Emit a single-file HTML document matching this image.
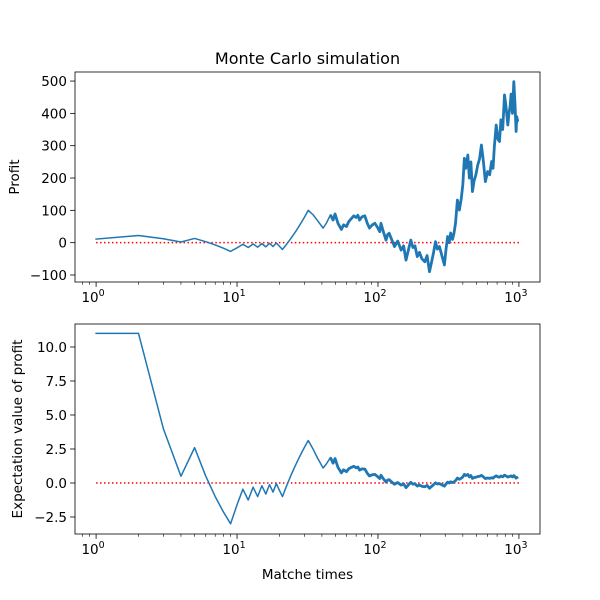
<!DOCTYPE html>
<html><head><meta charset="utf-8">
<style>
html,body{margin:0;padding:0;background:#fff;}
svg{display:block;font-family:"DejaVu Sans","Liberation Sans",sans-serif;}
</style></head>
<body>
<svg id="fig" width="600" height="600" viewBox="0 0 600 600">
<rect width="600" height="600" fill="#fff"/>
</svg>
<script>
const matchN = [1,2,3,4,5,6,7,8,9,10,11,12,13,14,15,16,17,18,19,20,21,22,23,24,25,26,27,28,29,30,31,32,
34.7,37,40.8,43,46,48,49.6,52,55,57,59.8,62,64,67.4,70,72,74,77,80.6,84,87,91,95,99,103,105,109,114,117,120,125,131,138,146,152,158,165,171,177,183,190,197,205,215,223,232,240,248,256,264,273,284,296,304,312,320,328,338,346,355,366,378,390,400,410,420,434,445,456,468,480,495,510,526,542,560,578,600,620,640,655,670,690,710,728,745,767,790,810,834,850,865,880,900,920,940,955,965,981,990,1000];
const profit = [11,22,12,2,13,3,-7,-17,-27,-16,-5,-15,-4,-14,-3,-13,-2,-12,-1,-11,-21,-10,1,12,23,34,45,56,67,78,89,100,
86,70,45,60,86,70,89,60,41,55,50,65,72,83,78,85,70,80,83,60,45,55,60,48,34,60,35,8,25,29,10,-12,5,-23,-10,-54,-20,8,-15,-10,-43,-30,-50,-59,-40,-90,-60,-30,3,-20,-12,-40,-69,-20,19,0,30,10,29,60,132,101,137,180,261,230,271,200,250,158,190,210,240,260,302,250,189,220,210,251,230,300,364,320,313,380,350,457,420,364,400,420,460,400,498,420,344,390,375];
const xTicks = [1,10,100,1000];
const xTickExp = ["0","1","2","3"];
const yTicksTop = [-100,0,100,200,300,400,500];
const yTicksBot = [-2.5,0,2.5,5,7.5,10];
const yTickLabelsBot = ["\u22122.5","0.0","2.5","5.0","7.5","10.0"];
const expectation = profit.map((p,i)=>p/matchN[i]);

const NS="http://www.w3.org/2000/svg";
const svg=document.getElementById('fig');
function el(tag,attrs,parent){const e=document.createElementNS(NS,tag);for(const k in attrs)e.setAttribute(k,attrs[k]);(parent||svg).appendChild(e);return e;}

const L=75,R=540;
const xmin=Math.log10(0.7085),xmax=Math.log10(1411);
const xs=n=>L+(Math.log10(n)-xmin)/(xmax-xmin)*(R-L);

function panel(name,top,bot,ymin,ymax,ticks,labels,series,ylabel){
  const g=el('g',{});
  
  
  const ys=v=>bot-(v-ymin)/(ymax-ymin)*(bot-top);
  const z=el('line',{x1:xs(1),x2:xs(1000),y1:ys(0),y2:ys(0),stroke:'red','stroke-width':1.5,'stroke-dasharray':'1.5,2.475'},g);
  
  
  const d=series.map((v,i)=>(i?'L':'M')+xs(matchN[i]).toFixed(2)+','+ys(v).toFixed(2)).join('');
  const p=el('path',{d:d,fill:'none',stroke:'#1f77b4','stroke-width':1.5,'stroke-linejoin':'round','stroke-linecap':'square'},g);
  
  
  // dense-region thickening (many jittery steps render as a thick band)
  let d2='';let first=true;
  series.forEach((v,i)=>{if(matchN[i]<45)return;d2+=(first?'M':'L')+xs(matchN[i]).toFixed(2)+','+ys(v).toFixed(2);first=false;});
  const p2=el('path',{d:d2,fill:'none',stroke:'#1f77b4','stroke-width':2.8,'stroke-linejoin':'round'},g);
  
  
  const f=el('rect',{x:L,y:top,width:R-L,height:bot-top,fill:'none',stroke:'#000','stroke-width':0.8},g);
  
  
  for(let dec=-1;dec<=3;dec++){for(let m=1;m<10;m++){const v=m*Math.pow(10,dec);const x=xs(v);if(x<L||x>R)continue;
    el('line',{x1:x,x2:x,y1:bot,y2:bot+(m===1?4.9:2.8),stroke:'#000','stroke-width':m===1?0.8:0.6},g);}}
  xTicks.forEach((v,i)=>{const t=el('text',{x:xs(v)-3,y:bot+20,'font-size':13.5,'text-anchor':'middle',fill:'#000'},g);
    
    
    t.textContent='10';
    const s=el('tspan',{dy:-6,'font-size':9.5},t);s.textContent=xTickExp[i];});
  ticks.forEach((v,i)=>{const y=ys(v);el('line',{x1:L-4.9,x2:L,y1:y,y2:y,stroke:'#000','stroke-width':0.8},g);
    const t=el('text',{x:L-8,y:y+5,'font-size':13.5,'text-anchor':'end',fill:'#000'},g);
    
    
    t.textContent=labels[i];});
  const yl=el('text',{x:0,y:0,'font-size':13.5,'text-anchor':'middle',transform:`translate(${ylabel.x},${(top+bot)/2}) rotate(-90)`},g);
  
  
  yl.textContent=ylabel.text;
}
panel('profit-panel',72,282,-121.7,528,yTicksTop,yTicksTop.map(v=>v<0?'\u2212'+(-v):String(v)),profit,{x:19,text:'Profit'});
panel('expectation-panel',324,534,-3.75,11.69,yTicksBot,yTickLabelsBot,expectation,{x:22,text:'Expectation value of profit'});

const title=el('text',{x:307.5,y:64,'font-size':16,'text-anchor':'middle'});


title.textContent='Monte Carlo simulation';
const xl=el('text',{x:307.5,y:579,'font-size':13.5,'text-anchor':'middle'});


xl.textContent='Matche times';
</script>
</body></html>
